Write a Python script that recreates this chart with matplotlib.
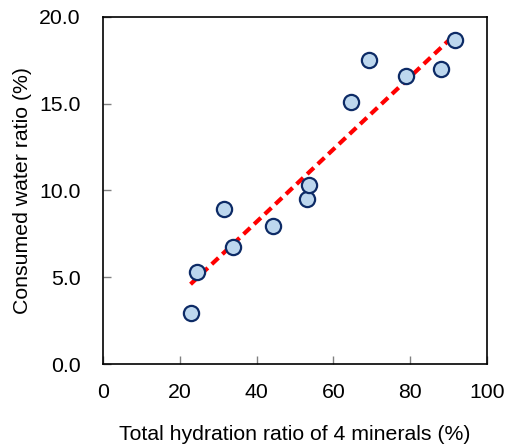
import matplotlib
matplotlib.use("Agg")
import matplotlib.pyplot as plt

hydration = [22.8, 24.4, 31.5, 33.9, 44.2, 53.0, 53.7, 64.5, 69.2, 78.9, 88.1, 91.7]
consumed = [2.92, 5.28, 8.95, 6.76, 7.93, 9.5, 10.3, 15.1, 17.5, 16.6, 17.0, 18.7]
trend_x = [22.8, 91.7]
trend_y = [4.6, 19.0]
xticks = [0, 20, 40, 60, 80, 100]
yticks = [0.0, 5.0, 10.0, 15.0, 20.0]

plt.rcParams['font.family'] = ['Liberation Sans', 'DejaVu Sans']

fig = plt.figure(figsize=(5.06, 4.48), dpi=100)
ax = fig.add_axes([103/506, 1-364/448, (487-103)/506, (364-17)/448])

ax.plot(trend_x, trend_y, color='#ff0000', lw=3, ls=(0, (2.2, 1.3)), zorder=2)
ax.scatter(hydration, consumed, s=120, facecolor='#bdd7ee', edgecolor='#0d2b66',
           linewidths=1.6, zorder=3)

ax.set_xlim(0, 100)
ax.set_ylim(0, 20)
ax.set_xticks(xticks)
ax.set_yticks(yticks)
ax.set_yticklabels([f"{v:.1f}" for v in yticks])
ax.tick_params(direction='in', length=6, width=1, color='#808080', labelsize=15.3)
ax.tick_params(axis='x', pad=14)
ax.tick_params(axis='y', pad=16)
for s in ax.spines.values():
    s.set_color('black')
    s.set_linewidth(1.2)

ax.set_xlabel('Total hydration ratio of 4 minerals (%)', fontsize=15.3, labelpad=16)
ax.set_ylabel('Consumed water ratio (%)', fontsize=15.3, labelpad=5)

fig.savefig('out.png', dpi=100)
